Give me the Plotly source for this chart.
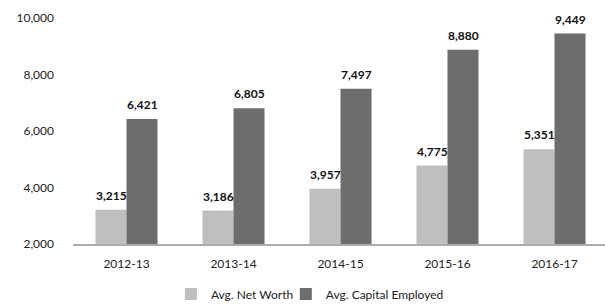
import plotly.graph_objects as go

categories = ["2012-13", "2013-14", "2014-15", "2015-16", "2016-17"]
net_worth = [3215, 3186, 3957, 4775, 5351]
capital_employed = [6421, 6805, 7497, 8880, 9449]
y_ticks = [2000, 4000, 6000, 8000, 10000]

FONT = "Lato, Open Sans, sans-serif"

fig = go.Figure()
fig.add_trace(go.Bar(
    x=categories, y=net_worth, name="Avg. Net Worth",
    marker=dict(color="#BFBFBF", line=dict(width=0)),
    legend="legend",
))
fig.add_trace(go.Bar(
    x=categories, y=capital_employed, name="Avg. Capital Employed",
    marker=dict(color="#6D6D6D", line=dict(width=0)),
    legend="legend2",
))

# value labels above bars (positioned via data coordinates)
for series, shift in ((net_worth, -15.5), (capital_employed, 15.5)):
    for cat, v in zip(categories, series):
        fig.add_annotation(x=cat, y=v, text=f"<b>{v:,}</b>", showarrow=False,
                           xanchor="center", yanchor="bottom", xshift=shift, yshift=5,
                           font=dict(family=FONT, size=12, color="#111111"))

legend_common = dict(orientation="h", xanchor="left", y=-0.157, yanchor="top",
                     bgcolor="rgba(0,0,0,0)",
                     font=dict(family=FONT, size=12, color="#222222"), itemwidth=30)

fig.update_layout(
    width=605, height=304,
    margin=dict(l=73, r=0, t=18, b=60, autoexpand=False),
    paper_bgcolor="white", plot_bgcolor="white",
    barmode="group", bargap=0.42, bargroupgap=0,
    font=dict(family=FONT, size=12, color="#222222"),
    showlegend=True,
    legend=dict(x=0.184, **legend_common),
    legend2=dict(x=0.4, **legend_common),
    xaxis=dict(range=[-0.5, 4.472], showgrid=False, showline=True, linecolor="#AAAAAA",
               linewidth=2, ticks="", tickfont=dict(size=12), ticklabelstandoff=8,
               automargin=False),
    yaxis=dict(range=[2000, 10000], tickvals=y_ticks, ticktext=[f"{v:,}" for v in y_ticks],
               showgrid=False, zeroline=False, showline=False, ticks="",
               ticklabelstandoff=18, tickfont=dict(size=12), automargin=False),
)

fig.write_html("out.html", config={"displayModeBar": False},
               post_script="document.body.style.margin='0';")
